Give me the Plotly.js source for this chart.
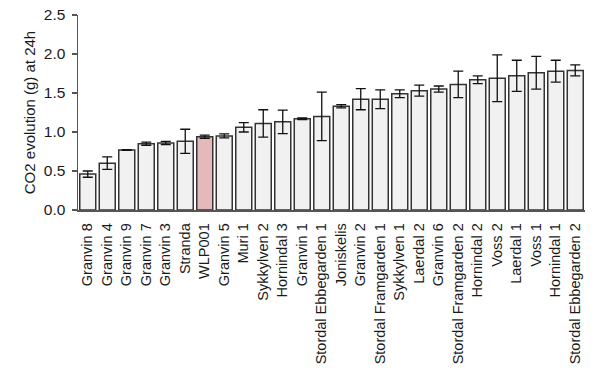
<!DOCTYPE html>
<html>
<head>
<meta charset="utf-8">
<script src="https://cdn.plot.ly/plotly-3.0.1.min.js"></script>
<style>html,body{margin:0;padding:0;background:#fff;}#chart{width:600px;height:376px;}</style>
</head>
<body>
<div id="chart"></div>
<script>
const strains = ["Granvin 8","Granvin 4","Granvin 9","Granvin 7","Granvin 3","Stranda","WLP001","Granvin 5","Muri 1","Sykkylven 2","Hornindal 3","Granvin 1","Stordal Ebbegarden 1","Joniskelis","Granvin 2","Stordal Framgarden 1","Sykkylven 1","Laerdal 2","Granvin 6","Stordal Framgarden 2","Hornindal 2","Voss 2","Laerdal 1","Voss 1","Hornindal 1","Stordal Ebbegarden 2"];
const co2 = [0.46,0.60,0.77,0.85,0.86,0.88,0.94,0.95,1.06,1.11,1.13,1.17,1.20,1.33,1.42,1.42,1.49,1.53,1.55,1.61,1.67,1.69,1.72,1.76,1.78,1.79];
const errs = [0.04,0.08,0.005,0.02,0.02,0.155,0.02,0.025,0.06,0.175,0.15,0.01,0.31,0.02,0.135,0.12,0.05,0.07,0.04,0.17,0.05,0.30,0.20,0.21,0.14,0.07];
const highlight = "WLP001";

const fills = strains.map(s => s === highlight ? "#e5b9b9" : "#f1f1f1");

const trace = {
  type: "bar",
  x: strains,
  y: co2,
  marker: {color: fills, line: {color: "#333333", width: 1.5}},
  error_y: {type: "data", array: errs, visible: true, color: "#111111", thickness: 1.3, width: 5},
  hoverinfo: "x+y"
};

const layout = {
  width: 600, height: 376,
  margin: {l: 78, r: 15, t: 15, b: 166},
  paper_bgcolor: "#fff", plot_bgcolor: "#fff",
  bargap: 0.18,
  showlegend: false,
  font: {family: "Liberation Sans, Arial, sans-serif", size: 14, color: "#1a1a1a"},
  xaxis: {
    type: "category",
    tickangle: -90,
    showline: true, linecolor: "#555", linewidth: 1.5,
    ticks: "", showgrid: false, zeroline: false,
    tickfont: {size: 14.5, color: "#1a1a1a"},
    ticklabelstandoff: 6
  },
  yaxis: {
    range: [0, 2.5],
    dtick: 0.5, tickformat: ".1f",
    showline: true, linecolor: "#555", linewidth: 1.5,
    ticks: "outside", ticklen: 5, tickcolor: "#555", tickwidth: 1.5,
    showgrid: false, zeroline: false,
    tickfont: {size: 15.5, color: "#1a1a1a"},
    ticklabelstandoff: 3,
    title: {text: "CO2 evolution (g) at 24h", font: {size: 15, color: "#1a1a1a"}, standoff: 4}
  }
};

Plotly.newPlot("chart", [trace], layout, {displayModeBar: false, staticPlot: true});
</script>
</body>
</html>
